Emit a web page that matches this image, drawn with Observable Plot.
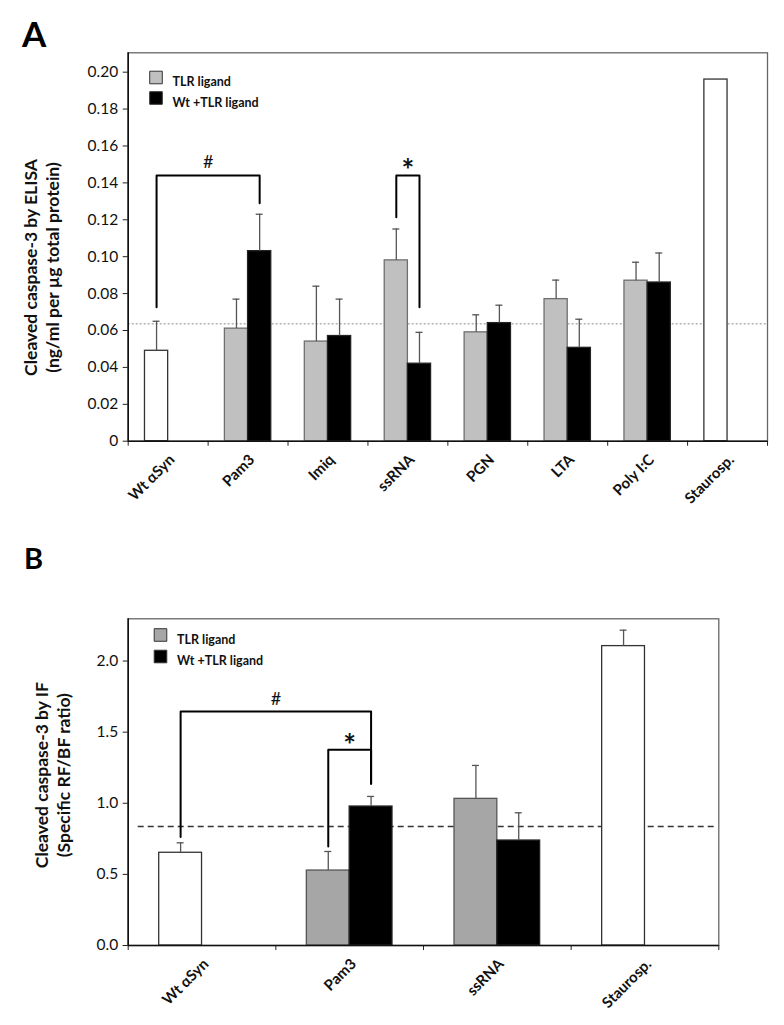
<!DOCTYPE html>
<html><head><meta charset="utf-8">
<script src="https://cdn.jsdelivr.net/npm/d3@7"></script>
<script src="https://cdn.jsdelivr.net/npm/@observablehq/plot@0.6"></script>
<style>
body{margin:0;background:#fff;font-family:Lato,sans-serif}
#wrap{position:relative;width:784px;height:1025px;overflow:hidden}
.panel{position:absolute;left:0}
.plab{position:absolute;font-weight:bold;font-family:Lato,sans-serif;line-height:1}
</style></head><body>
<div id="wrap">
<div id="pa" class="panel" style="top:0"></div>
<div id="pb" class="panel" style="top:510px"></div>
<div class="plab" style="left:22px;top:16px;font-size:35px">A</div>
<div class="plab" style="left:24px;top:543px;font-size:29px">B</div>
</div>
<script>
// ---------- Panel A data ----------
const catsA = ["Wt αSyn","Pam3","Imiq","ssRNA","PGN","LTA","Poly I:C","Staurosp."];
const ctrlA    = [0.049, null, null, null, null, null, null, 0.196];
const ctrlErrA = [0.016, null, null, null, null, null, null, 0];
const tlrA     = [null, 0.061, 0.054, 0.098, 0.059, 0.077, 0.087, null];
const tlrErrA  = [null, 0.016, 0.030, 0.017, 0.0095, 0.0103, 0.010, null];
const wtA      = [null, 0.103, 0.057, 0.042, 0.064, 0.0506, 0.086, null];
const wtErrA   = [null, 0.020, 0.020, 0.017, 0.0097, 0.0155, 0.016, null];
const refA = 0.0636;
const ticksA = [0, 0.02, 0.04, 0.06, 0.08, 0.10, 0.12, 0.14, 0.16, 0.18, 0.20];
const bracketsA = [
  {label: "#", from: 0, fromSlot: "left", to: 1, toSlot: "right", top: 0.144, endL: 0.0726, endR: 0.129},
  {label: "*", from: 3, fromSlot: "left", to: 3, toSlot: "right", top: 0.144, endL: 0.1214, endR: 0.0726}
];

// ---------- Panel B data ----------
const catsB = ["Wt αSyn","Pam3","ssRNA","Staurosp."];
const ctrlB    = [0.652, null, null, 2.105];
const ctrlErrB = [0.070, null, null, 0.112];
const tlrB     = [null, 0.527, 1.031, null];
const tlrErrB  = [null, 0.134, 0.235, null];
const wtB      = [null, 0.977, 0.738, null];
const wtErrB   = [null, 0.071, 0.195, null];
const refB = 0.837;
const ticksB = [0, 0.5, 1.0, 1.5, 2.0];
const bracketsB = [
  {label: "#", from: 0, fromSlot: "left", to: 1, toSlot: "right", top: 1.646, endL: 0.762, endR: 1.137},
  {label: "*", from: 1, fromSlot: "left", to: 1, toSlot: "right", top: 1.376, endL: 0.696, endR: 1.137}
];

const legendLabels = ["TLR ligand", "Wt +TLR ligand"];
const BW = 0.29; // bar width as a fraction of the category band

function rowsFrom(ctrl, ctrlErr, tlr, tlrErr, wt, wtErr) {
  const rows = [];
  ctrl.forEach((v, i) => { if (v != null) rows.push({i, slot: "left", kind: "ctrl", value: v, err: ctrlErr[i]}); });
  tlr.forEach((v, i) => { if (v != null) rows.push({i, slot: "left", kind: "tlr", value: v, err: tlrErr[i]}); });
  wt.forEach((v, i) => { if (v != null) rows.push({i, slot: "right", kind: "wt", value: v, err: wtErr[i]}); });
  return rows;
}
const cx = (i, slot) => slot === "left" ? i + 0.5 - BW / 2 : i + 0.5 + BW / 2;

function bracketPaths(brs) {
  const pts = [];
  brs.forEach((b, k) => {
    const xl = cx(b.from, b.fromSlot), xr = cx(b.to, b.toSlot);
    pts.push({k, x: xl, y: b.endL}, {k, x: xl, y: b.top}, {k, x: xr, y: b.top}, {k, x: xr, y: b.endR});
  });
  return pts;
}

function legendMarks(grayFill, legDx, legDy0, legDy1) {
  return [
    Plot.dot([legendLabels[0]], {frameAnchor: "top-left", dx: legDx, dy: legDy0, symbol: "square", r: 7.1, fill: grayFill, stroke: "#333", strokeWidth: 1}),
    Plot.dot([legendLabels[1]], {frameAnchor: "top-left", dx: legDx, dy: legDy1, symbol: "square", r: 7.1, fill: "black", stroke: "#333", strokeWidth: 1}),
    Plot.text([legendLabels[0]], {frameAnchor: "top-left", dx: legDx + 16.5, dy: legDy0, textAnchor: "start", fontWeight: "bold", fontSize: 12.5, fill: "#111"}),
    Plot.text([legendLabels[1]], {frameAnchor: "top-left", dx: legDx + 16.5, dy: legDy1, textAnchor: "start", fontWeight: "bold", fontSize: 12.5, fill: "#111"})
  ];
}

function build(cfg) {
  const n = cfg.cats.length;
  const fills = {ctrl: "white", tlr: cfg.grayFill, wt: "black"};
  const strokes = {ctrl: "#333", tlr: cfg.grayStroke, wt: "#222"};
  const rows = cfg.rows;
  const errs = rows.filter(d => d.err > 0);
  const brackets = cfg.brackets;
  const mid = b => (cx(b.from, b.fromSlot) + cx(b.to, b.toSlot)) / 2;
  return Plot.plot({
    width: 784, height: cfg.height, marginLeft: 127.7, marginRight: cfg.mr, marginTop: cfg.mt, marginBottom: cfg.mb,
    x: {domain: [0, n], axis: null},
    y: {domain: [0, cfg.ymax], axis: null},
    style: {fontFamily: "Lato, sans-serif", background: "white", color: "black"},
    marks: [
      Plot.frame({stroke: "#666", strokeWidth: 1.3}),
      Plot.ruleY([cfg.ref], cfg.refStyle),
      Plot.rect(rows, {x1: d => d.slot === "left" ? d.i + 0.5 - BW : d.i + 0.5,
                       x2: d => d.slot === "left" ? d.i + 0.5 : d.i + 0.5 + BW,
                       y1: 0, y2: "value",
                       fill: d => fills[d.kind], stroke: d => strokes[d.kind], strokeWidth: 1.3}),
      Plot.ruleX(errs, {x: d => cx(d.i, d.slot), y1: "value", y2: d => d.value + d.err, stroke: "#555", strokeWidth: 1.3}),
      Plot.ruleY(errs, {x1: d => cx(d.i, d.slot), x2: d => cx(d.i, d.slot), y: d => d.value + d.err,
                        insetLeft: -3.5, insetRight: -3.5, stroke: "#555", strokeWidth: 1.3}),
      Plot.axisY({ticks: cfg.ticks, tickFormat: cfg.fmt, tickSize: 5, tickPadding: 5, fontSize: 15.5, label: null, stroke: "#222", color: "#111"}),
      Plot.axisX({ticks: d3.range(n + 1), tickFormat: () => "", tickSize: 5, label: null, stroke: "#222"}),
      Plot.ruleX([0], {stroke: "#111", strokeWidth: 1.6}),
      Plot.ruleY([0], {stroke: "#111", strokeWidth: 1.6}),
      Plot.text(cfg.cats, {x: (d, i) => i + 0.5, y: 0, text: d => d, rotate: -45, textAnchor: "end",
                       lineAnchor: "middle", dy: 16, dx: 4, fontWeight: "bold", fontSize: 15, fill: "#111"}),
      Plot.line(bracketPaths(brackets), {x: "x", y: "y", z: "k", stroke: "black", strokeWidth: 2}),
      Plot.text(brackets.filter(b => b.label === "#"), {x: mid, y: "top", text: "label", dy: cfg.hashDy, fontSize: 18, fill: "#111"}),
      Plot.text(brackets.filter(b => b.label === "*"), {x: mid, y: "top", text: "label", dy: cfg.starDy, fontSize: 30, fontWeight: "bold", fill: "#111"}),
      Plot.text([cfg.ylabel], {frameAnchor: "left", rotate: -90, dx: cfg.ylDx, dy: cfg.ylDy, fontWeight: "bold", fontSize: 17.5,
                           lineHeight: 1.22, lineAnchor: "middle", textAnchor: "middle", fill: "#111"}),
      ...legendMarks(cfg.grayFill, cfg.legDx, cfg.legDy0, cfg.legDy1)
    ]
  });
}

const plotA = build({
  cats: catsA, rows: rowsFrom(ctrlA, ctrlErrA, tlrA, tlrErrA, wtA, wtErrA), ref: refA, ticks: ticksA,
  fmt: d => d === 0 ? "0" : d.toFixed(2), brackets: bracketsA, ymax: 0.2105, height: 510, mt: 52.3, mb: 69.3, mr: 17,
  grayFill: "#c0c0c0", grayStroke: "#6f6f6f",
  refStyle: {stroke: "#888", strokeDasharray: "2,2", strokeWidth: 1},
  ylabel: "Cleaved caspase-3 by ELISA\n(ng/ml per µg total protein)", ylDx: -87, ylDy: 20.5,
  legDx: 27.8, legDy0: 24.7, legDy1: 45.2, hashDy: -13, starDy: -4
});
const plotB = build({
  cats: catsB, rows: rowsFrom(ctrlB, ctrlErrB, tlrB, tlrErrB, wtB, wtErrB), ref: refB, ticks: ticksB,
  fmt: d => d.toFixed(1), brackets: bracketsB, ymax: 2.297, height: 515, mt: 108.3, mb: 80, mr: 65.7,
  grayFill: "#a6a6a6", grayStroke: "#555",
  refStyle: {stroke: "#333", strokeDasharray: "6,4", strokeWidth: 1.5, insetLeft: 10, insetRight: 3},
  ylabel: "Cleaved caspase-3 by IF\n(Specific RF/BF ratio)", ylDx: -76, ylDy: -7,
  legDx: 32.3, legDy0: 16.2, legDy1: 37.7, hashDy: -12, starDy: -3
});
document.getElementById("pa").appendChild(plotA);
document.getElementById("pb").appendChild(plotB);
</script>
</body></html>
